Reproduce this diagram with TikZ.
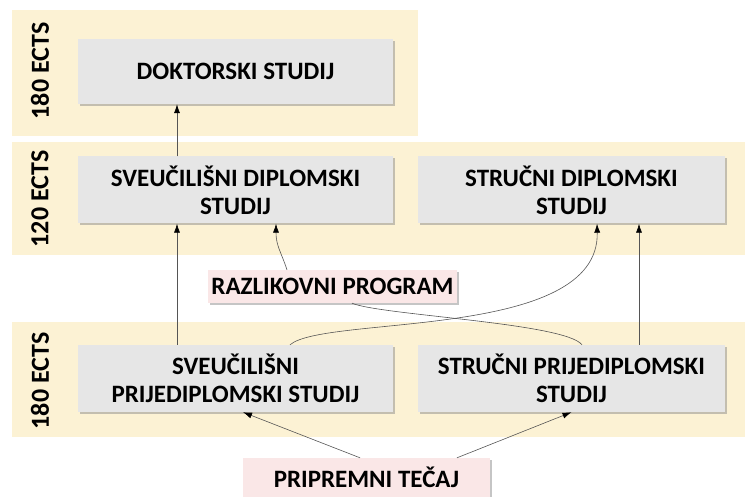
\documentclass[tikz,border=0pt]{standalone}
\usepackage{fontspec}
\setmainfont{Carlito}
\usetikzlibrary{arrows.meta,shadows}
\definecolor{bandyellow}{RGB}{252,242,212}
\definecolor{boxgray}{RGB}{230,230,230}
\definecolor{boxpink}{RGB}{250,231,231}
\definecolor{linegray}{RGB}{85,85,85}
\tikzset{
    studybox/.style={fill=boxgray,inner sep=0pt,align=center,
        drop shadow={shadow xshift=2pt,shadow yshift=-2pt,fill=black!45}},
    extrabox/.style={studybox,fill=boxpink},
    ectslabel/.style={rotate=90,font=\fontsize{26}{30}\selectfont\bfseries},
}
\begin{document}
\begin{tikzpicture}[x=1pt,y=-1pt,>={Latex[length=9pt,width=6pt,black]}]
        \useasboundingbox (0,0) rectangle (745,497);

        % bands
        \fill[bandyellow] (12,10) rectangle (418,136);
        \fill[bandyellow] (12,142) rectangle (745,255);
        \fill[bandyellow] (12,322) rectangle (745,437);

        \node[ectslabel] (l1) at (40,71) {180 ECTS};
        \node[ectslabel] (l2) at (40,199) {120 ECTS};
        \node[ectslabel] (l3) at (40,381) {180 ECTS};

        \begin{scope}[every node/.style={font=\fontsize{25}{28}\selectfont\bfseries}]
            \node[studybox,minimum width=315pt,minimum height=65pt] (dok) at (235.5,71.5) {DOKTORSKI STUDIJ};
            \node[studybox,minimum width=315pt,minimum height=67pt] (sdipl) at (235.5,190) {SVEUČILIŠNI DIPLOMSKI\\STUDIJ};
            \node[studybox,minimum width=307pt,minimum height=67pt] (sudipl) at (571.5,190) {STRUČNI DIPLOMSKI\\STUDIJ};
            \node[extrabox,minimum width=249pt,minimum height=33pt] (raz) at (332.5,286.5) {RAZLIKOVNI PROGRAM};
            \node[studybox,minimum width=315pt,minimum height=67pt] (sprij) at (235.5,378.5) {SVEUČILIŠNI\\PRIJEDIPLOMSKI STUDIJ};
            \node[studybox,minimum width=307pt,minimum height=67pt] (suprij) at (571.5,378.5) {STRUČNI PRIJEDIPLOMSKI\\STUDIJ};
            \node[extrabox,minimum width=247pt,minimum height=39pt] (prip) at (366.5,477.5) {PRIPREMNI TEČAJ};
        \end{scope}

        \begin{scope}[every path/.style={linegray,semithick}]
            \path ([xshift=-58.5pt]sdipl.north) edge [->] ([xshift=-58.5pt]dok.south);
            \path ([xshift=-58.5pt]sprij.north) edge [->] ([xshift=-58.5pt]sdipl.south);
            \path ([xshift=67.5pt]suprij.north) edge [->] ([xshift=67.5pt]sudipl.south);
            \draw [->] ([xshift=-45.5pt]raz.north) .. controls +(-6,-18) and +(0,22) .. ([xshift=40.5pt]sdipl.south);
            \draw [->] ([xshift=54.5pt]sprij.north) .. controls +(35,-30) and +(3,117) .. ([xshift=25.5pt]sudipl.south);
            \draw ([xshift=19.5pt]raz.south) .. controls +(28,12) and +(-17,-22) .. ([xshift=10.5pt]suprij.north);
            \path ([xshift=-6.5pt]prip.north) edge [->] ([xshift=7.5pt]sprij.south);
            \path ([xshift=90.5pt]prip.north) edge [->] (suprij.south);
        \end{scope}
        \end{tikzpicture}
\end{document}
